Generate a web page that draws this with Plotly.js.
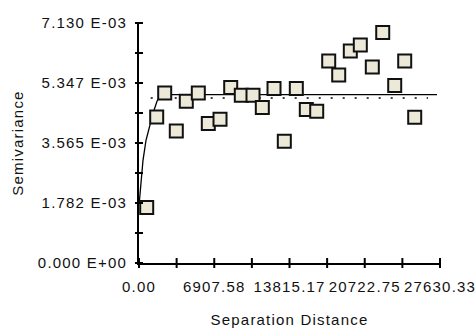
<!DOCTYPE html>
<html>
<head>
<meta charset="utf-8">
<script src="https://cdn.plot.ly/plotly-3.0.1.min.js"></script>
<style>
html,body{margin:0;padding:0;background:#fff;}
#chart{width:475px;height:329px;}
#chart text{letter-spacing:1.2px;}
#chart .g-xtitle{transform:translateY(6px);}
</style>
</head>
<body>
<div id="chart"></div>
<script>
// Experimental semivariogram points
const lagDistance = [707, 1625, 2359, 3424, 4342, 5444, 6362, 7436, 8418, 9391, 10465, 11319, 12393, 13339, 14440, 15358, 16313, 17414, 18332, 19397, 20315, 21417, 22372, 23473, 24391, 25309];
const semivariance = [1.646e-3, 4.338e-3, 5.051e-3, 3.922e-3, 4.804e-3, 5.051e-3, 4.142e-3, 4.269e-3, 5.211e-3, 4.982e-3, 4.982e-3, 4.617e-3, 5.181e-3, 3.616e-3, 5.181e-3, 4.557e-3, 4.507e-3, 6.001e-3, 5.586e-3, 6.299e-3, 6.477e-3, 5.823e-3, 6.845e-3, 5.271e-3, 6.001e-3, 4.329e-3];

// Fitted model curve
const modelDistance = [20, 138, 367, 643, 918, 1285, 1652, 1928, 2203, 27356];
const modelValue = [1.774e-3, 2.309e-3, 3.051e-3, 3.646e-3, 4.002e-3, 4.448e-3, 4.804e-3, 4.953e-3, 5.003e-3, 5.003e-3];

// Sample variance (dotted line)
const varianceDistance = [1074, 26530];
const varianceValue = [4.902e-3, 4.902e-3];

// Axis ticks
const xTickVals = [0, 3453.79, 6907.58, 10361.38, 13815.17, 17268.96, 20722.75, 24176.54, 27630.33];
const xTickText = ["0.00", "", "6907.58", "", "13815.17", "", "20722.75", "", "27630.33"];
const yTickVals = [0, 0.89125e-3, 1.7825e-3, 2.67375e-3, 3.565e-3, 4.45625e-3, 5.3475e-3, 6.23875e-3, 7.130e-3];
const yTickText = ["0.000 E+00", "", "1.782 E-03", "", "3.565 E-03", "", "5.347 E-03", "", "7.130 E-03"];

const xRange = [0, 27630.33];
const yRange = [0, 7.130e-3];
const fontFamily = '"Liberation Sans", Arial, sans-serif';

const W = 475, H = 329;
const margin = {l: 139, r: 35, t: 23, b: 66};
const plotW = W - margin.l - margin.r;
const plotH = H - margin.t - margin.b;

// Crossing tick marks, placed through the axis ranges
const xTickShapes = xTickVals.map(v => ({
  type: 'line', xref: 'paper', yref: 'paper',
  x0: (v - xRange[0]) / (xRange[1] - xRange[0]), x1: (v - xRange[0]) / (xRange[1] - xRange[0]),
  y0: -5 / plotH, y1: 5 / plotH,
  line: {color: '#000', width: 2}
}));
const yTickShapes = yTickVals.map(v => ({
  type: 'line', xref: 'paper', yref: 'paper',
  y0: (v - yRange[0]) / (yRange[1] - yRange[0]), y1: (v - yRange[0]) / (yRange[1] - yRange[0]),
  x0: -4 / plotW, x1: 4 / plotW,
  line: {color: '#000', width: 2}
}));

const traces = [
  {
    x: varianceDistance, y: varianceValue,
    mode: 'lines', line: {color: '#000', width: 1.5, dash: '2px,10px'},
    hoverinfo: 'skip', showlegend: false
  },
  {
    x: modelDistance, y: modelValue,
    mode: 'lines', line: {color: '#000', width: 1.3},
    showlegend: false
  },
  {
    x: lagDistance, y: semivariance,
    mode: 'markers',
    marker: {symbol: 'square', size: 13, color: '#ECE9D8', line: {color: '#111', width: 2}},
    showlegend: false
  }
];

const baseAxis = {
  showgrid: false, zeroline: false, showline: true,
  linecolor: '#000', linewidth: 2, ticks: '', fixedrange: true
};

const layout = {
  width: W, height: H, margin: margin,
  font: {family: fontFamily, size: 15, color: '#111'},
  xaxis: Object.assign({}, baseAxis, {
    range: xRange, tickmode: 'array', tickvals: xTickVals, ticktext: xTickText,
    ticklabelstandoff: 9,
    title: {text: 'Separation Distance', font: {size: 15}}
  }),
  yaxis: Object.assign({}, baseAxis, {
    range: yRange, tickmode: 'array', tickvals: yTickVals, ticktext: yTickText,
    ticklabelstandoff: 7, automargin: true,
    title: {text: 'Semivariance', font: {size: 15}, standoff: 23}
  }),
  shapes: xTickShapes.concat(yTickShapes)
};

Plotly.newPlot('chart', traces, layout, {staticPlot: true, displayModeBar: false});
</script>
</body>
</html>
